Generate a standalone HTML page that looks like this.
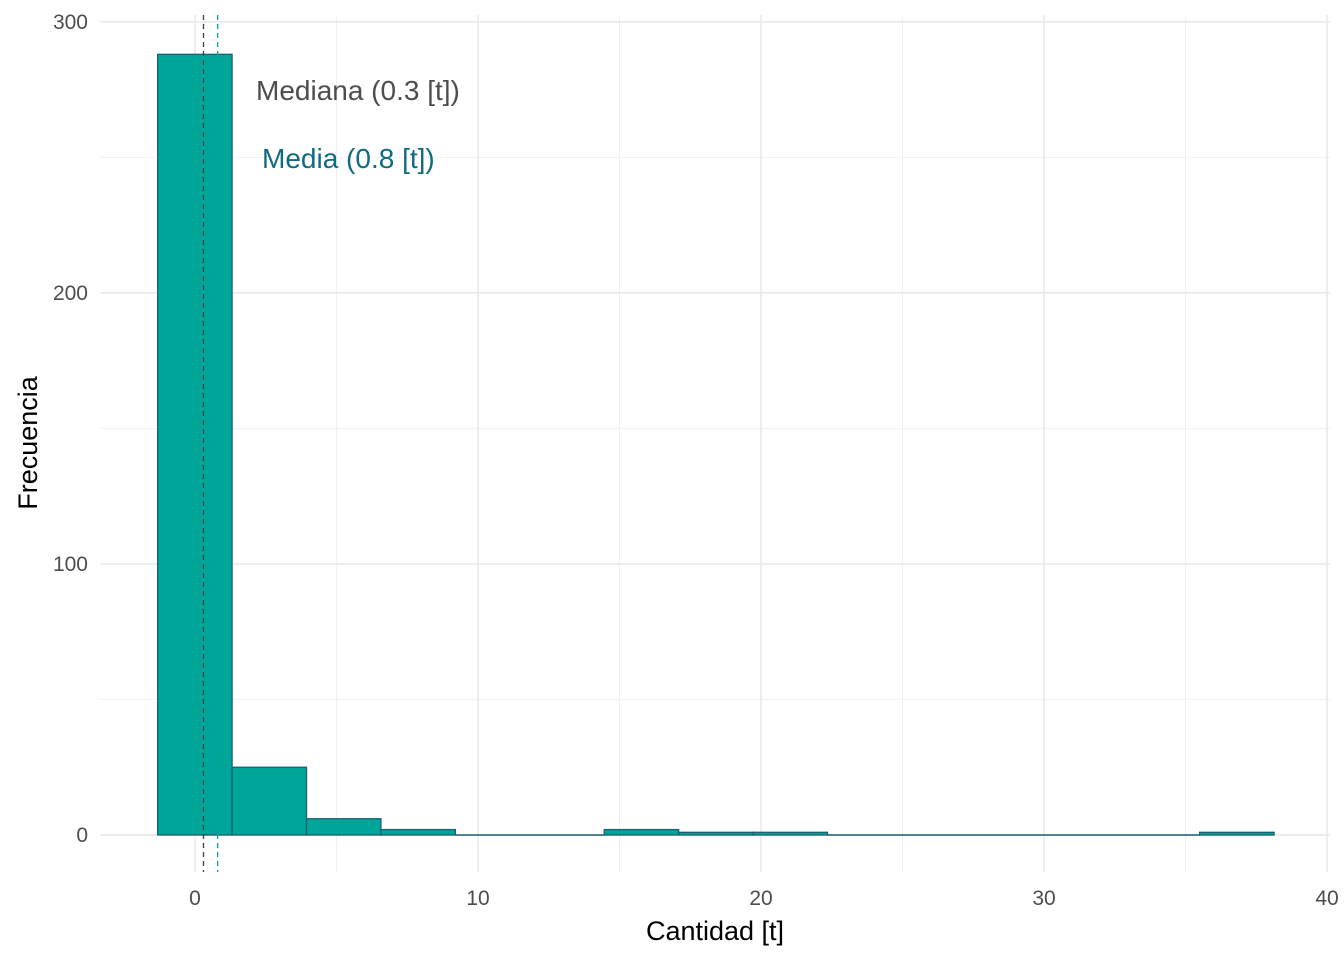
<!DOCTYPE html>
<html><head><meta charset="utf-8"><style>
html,body{margin:0;padding:0;background:#fff;}
svg{display:block;font-family:"Liberation Sans",Arial,sans-serif;}
</style></head><body>
<svg id="chart" width="1344" height="960"></svg>
<script>
const counts=[288,25,6,2,0,0,2,1,1,0,0,0,0,0,1];
const binStart=-1.32;
const binWidth=2.63;
const xTicks=[0,10,20,30,40];
const xMinor=[5,15,25,35];
const yTicks=[0,100,200,300];
const yMinor=[50,150,250];
const medianVal=0.3;
const meanVal=0.8;

const svg=document.getElementById('chart');
const NS='http://www.w3.org/2000/svg';
const X=v=>195+v*28.3;
const Y=v=>835-v*2.7107;
function mk(tag,attrs,name,parent){
  const e=document.createElementNS(NS,tag);
  for(const k in attrs)e.setAttribute(k,attrs[k]);
  
  
  (parent||svg).appendChild(e);return e;
}
const grid=mk('g',{},'grid');
xMinor.forEach(v=>mk('line',{x1:X(v),x2:X(v),y1:15,y2:872,stroke:'#f0f0f0','stroke-width':1},'x-minor-gridline',grid));
yMinor.forEach(v=>mk('line',{x1:100,x2:1330,y1:Y(v),y2:Y(v),stroke:'#f0f0f0','stroke-width':1},'y-minor-gridline',grid));
xTicks.forEach(v=>mk('line',{x1:X(v),x2:X(v),y1:15,y2:872,stroke:'#e6e6e6','stroke-width':1.4},'x-major-gridline',grid));
yTicks.forEach(v=>mk('line',{x1:100,x2:1330,y1:Y(v),y2:Y(v),stroke:'#e6e6e6','stroke-width':1.4},'y-major-gridline',grid));

const bars=mk('g',{},'bars');
counts.forEach((c,i)=>{
  const x0=X(binStart+i*binWidth),x1=X(binStart+(i+1)*binWidth);
  if(c>0){
    mk('rect',{x:x0,y:Y(c),width:x1-x0,height:Y(0)-Y(c),fill:'#00a59a',stroke:'#1b5f73','stroke-width':1.3},'bar-'+i,bars);
  } else {
    mk('line',{x1:x0,x2:x1,y1:Y(0),y2:Y(0),stroke:'#1b5f73','stroke-width':1.5},'bar-'+i,bars);
  }
});

mk('line',{x1:X(medianVal),x2:X(medianVal),y1:15,y2:872,stroke:'#404040','stroke-width':1.3,'stroke-dasharray':'5,4'},'median-line');
mk('line',{x1:X(meanVal),x2:X(meanVal),y1:15,y2:872,stroke:'#00a59a','stroke-width':1.3,'stroke-dasharray':'5,4'},'mean-line');

let t=mk('text',{x:256,y:100,'font-size':28,fill:'#4d4d4d'},'median-label');t.textContent='Mediana (0.3 [t])';
t=mk('text',{x:262,y:168,'font-size':28,fill:'#106a80'},'mean-label');t.textContent='Media (0.8 [t])';

xTicks.forEach(v=>{const e=mk('text',{x:X(v),y:905,'font-size':21,fill:'#4d4d4d','text-anchor':'middle'},'x-tick-label');e.textContent=v;});
yTicks.forEach(v=>{const e=mk('text',{x:88,y:Y(v)+7,'font-size':21,fill:'#4d4d4d','text-anchor':'end'},'y-tick-label');e.textContent=v;});

t=mk('text',{x:715,y:940,'font-size':27,fill:'#000','text-anchor':'middle'},'x-axis-title');t.textContent='Cantidad [t]';
t=mk('text',{x:0,y:0,'font-size':27,fill:'#000','text-anchor':'middle',transform:'translate(37,443) rotate(-90)'},'y-axis-title');t.textContent='Frecuencia';
</script>
</body></html>
